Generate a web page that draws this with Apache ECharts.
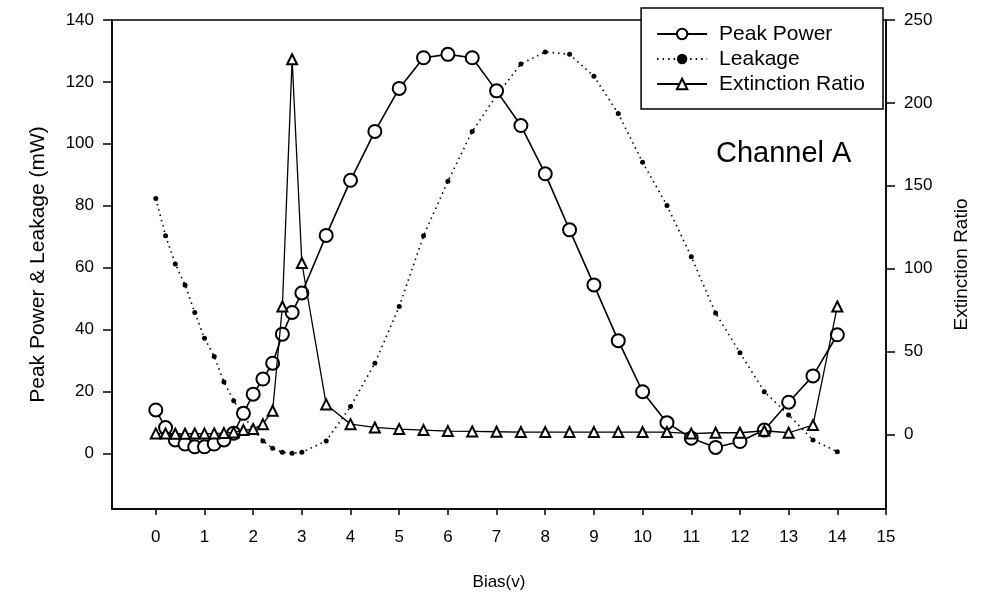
<!DOCTYPE html>
<html>
<head>
<meta charset="utf-8">
<script src="https://cdn.jsdelivr.net/npm/echarts@6/dist/echarts.min.js"></script>
<style>
html,body{margin:0;padding:0;background:#fff;}
#c{width:985px;height:597px;}
</style>
</head>
<body>
<div id="c"></div>
<script>
const bias = [0,0.2,0.4,0.6,0.8,1.0,1.2,1.4,1.6,1.8,2.0,2.2,2.4,2.6,2.8,3.0,3.5,4,4.5,5,5.5,6,6.5,7,7.5,8,8.5,9,9.5,10,10.5,11,11.5,12,12.5,13,13.5,14];
const peakPower = [14.0,8.3,4.3,3.0,2.1,2.1,3.0,4.3,6.5,12.9,19.1,24.0,29.1,38.5,45.5,51.8,70.4,88.2,104.0,117.9,127.8,128.9,127.8,117.1,105.9,90.3,72.2,54.4,36.4,19.9,9.9,4.9,1.9,3.8,7.5,16.5,25.0,38.3];
const leakage = [82.3,70.3,61.2,54.4,45.5,37.2,31.3,23.0,17.0,12.0,7.9,4.0,1.6,0.3,0.0,0.3,4.0,15.1,29.1,47.4,70.3,87.9,104.0,115.6,125.8,129.7,128.9,121.8,109.8,94.0,80.1,63.5,45.3,32.5,19.9,12.4,4.3,0.5];
const extinction = [0.6,0.5,0.4,0.4,0.5,0.5,0.6,0.8,1.2,2.6,3.2,6.2,14.3,77.2,226.3,103.4,18.1,6.2,4.2,3.2,2.6,2.0,1.8,1.6,1.4,1.4,1.4,1.4,1.4,1.4,1.4,0.5,1.0,1.0,2.2,1.0,5.6,77.2];
const xTicks = [0,1,2,3,4,5,6,7,8,9,10,11,12,13,14,15];
const leftTicks = [0,20,40,60,80,100,120,140];
const rightTicks = [0,50,100,150,200,250];

const FONT = '"Liberation Sans", Arial, sans-serif';
const pair = (ys) => bias.map((x, i) => [x, ys[i]]);

const chart = echarts.init(document.getElementById('c'), null, {renderer: 'canvas'});
chart.setOption({
  animation: false,
  backgroundColor: '#fff',
  textStyle: {fontFamily: FONT, color: '#000'},
  title: {
    text: 'Channel A',
    left: 711, top: 134,
    textStyle: {fontFamily: FONT, fontSize: 29, fontWeight: 'normal', color: '#000'}
  },
  grid: {
    left: 112, right: 99, top: 20, bottom: 88,
    show: true, borderColor: '#000', borderWidth: 1.5, backgroundColor: 'transparent'
  },
  legend: {
    orient: 'vertical',
    right: 102, top: 8,
    backgroundColor: '#fff',
    borderColor: '#000', borderWidth: 1.5,
    padding: [15, 18, 14, 15],
    itemGap: 3,
    itemWidth: 50, itemHeight: 13,
    textStyle: {fontFamily: FONT, fontSize: 21, lineHeight: 22, color: '#000', padding: [0, 0, 0, 7]},
    data: ['Peak Power', 'Leakage', 'Extinction Ratio']
  },
  xAxis: {
    type: 'value', min: -0.9, max: 15,
    name: 'Bias(v)', nameLocation: 'middle', nameGap: 65,
    nameTextStyle: {fontFamily: FONT, fontSize: 17, color: '#000'},
    axisLine: {onZero: false, lineStyle: {color: '#000', width: 1.5}},
    axisTick: {show: true, length: 6, customValues: xTicks, lineStyle: {color: '#000', width: 1.5}},
    axisLabel: {customValues: xTicks, margin: 20, fontSize: 17, color: '#000', fontFamily: FONT},
    splitLine: {show: false}
  },
  yAxis: [{
    type: 'value', min: -18, max: 140, position: 'left',
    name: 'Peak Power & Leakage (mW)', nameLocation: 'middle', nameGap: 63,
    nameTextStyle: {fontFamily: FONT, fontSize: 21, color: '#000'},
    axisLine: {show: true, onZero: false, lineStyle: {color: '#000', width: 1.5}},
    axisTick: {show: true, length: 9, customValues: leftTicks, lineStyle: {color: '#000', width: 1.5}},
    axisLabel: {customValues: leftTicks, margin: 18, fontSize: 17, color: '#000', fontFamily: FONT},
    splitLine: {show: false}
  }, {
    type: 'value', min: -45, max: 250, position: 'right',
    name: 'Extinction Ratio', nameLocation: 'middle', nameGap: 66,
    nameTextStyle: {fontFamily: FONT, fontSize: 19, color: '#000'},
    axisLine: {show: true, onZero: false, lineStyle: {color: '#000', width: 1.5}},
    axisTick: {show: true, length: 9, customValues: rightTicks, lineStyle: {color: '#000', width: 1.5}},
    axisLabel: {customValues: rightTicks, margin: 18, fontSize: 17, color: '#000', fontFamily: FONT},
    splitLine: {show: false}
  }],
  series: [{
    name: 'Peak Power', type: 'line', data: pair(peakPower),
    symbol: 'emptyCircle', symbolSize: 13,
    lineStyle: {color: '#000', width: 1.6},
    itemStyle: {color: '#000', borderColor: '#000', borderWidth: 1.6},
    z: 3
  }, {
    name: 'Leakage', type: 'line', data: pair(leakage),
    symbol: 'circle', symbolSize: 5,
    lineStyle: {color: '#000', width: 1.6, type: [1.5, 4]},
    itemStyle: {color: '#000'},
    z: 2
  }, {
    name: 'Extinction Ratio', type: 'line', yAxisIndex: 1, data: pair(extinction),
    symbol: 'emptyTriangle', symbolSize: 10,
    lineStyle: {color: '#000', width: 1.3},
    itemStyle: {color: '#000', borderColor: '#000', borderWidth: 1},
    z: 4
  }]
});
</script>
</body>
</html>
